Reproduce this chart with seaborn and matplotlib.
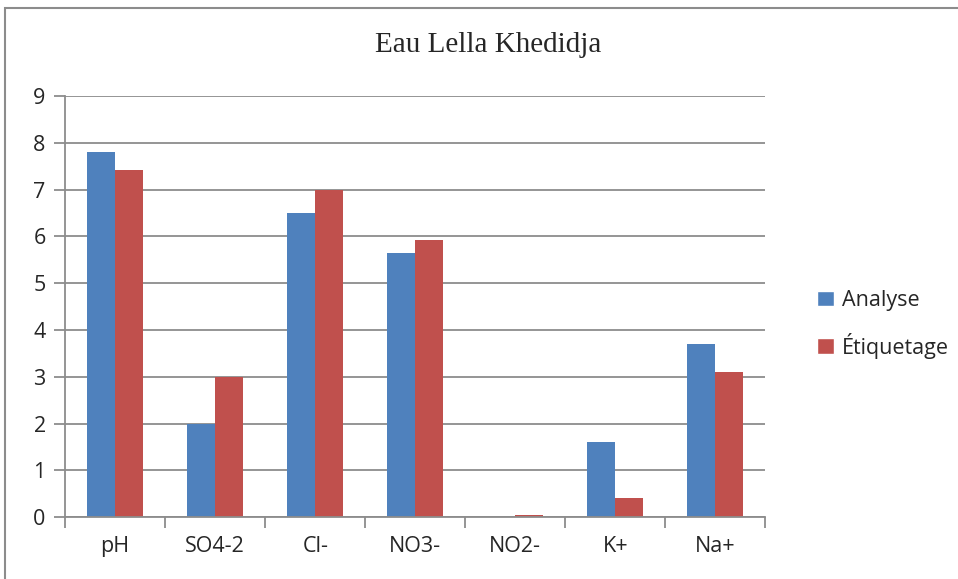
import pandas as pd
import matplotlib.pyplot as plt
import seaborn as sns
from matplotlib.patches import Rectangle, Patch

categories = ['pH', 'SO4-2', 'Cl-', 'NO3-', 'NO2-', 'K+', 'Na+']
analyse = [7.8, 2.0, 6.5, 5.65, 0.0, 1.6, 3.7]
etiquetage = [7.42, 3.0, 7.0, 5.93, 0.05, 0.4, 3.1]
series = ['Analyse', 'Étiquetage']
colors = ['#4F81BD', '#C0504D']

df = pd.DataFrame({
    'param': categories * 2,
    'value': analyse + etiquetage,
    'serie': [series[0]] * len(categories) + [series[1]] * len(categories),
})

sns.set_style('white')
plt.rcParams['font.family'] = ['Open Sans', 'DejaVu Sans']

fig = plt.figure(figsize=(9.58, 5.79), dpi=100)
ax = fig.add_axes([0.068, 0.107, 0.731, 0.727])

sns.barplot(data=df, x='param', y='value', hue='serie', palette=colors,
            width=0.56, ax=ax, legend=False, saturation=1, linewidth=0)

ax.set_ylim(0, 9)
ax.set_xlim(-0.5, len(categories) - 0.5)
ax.set_yticks(range(0, 10))
ax.yaxis.grid(True, color='#8c8c8c', linewidth=1.3)
ax.set_axisbelow(True)
ax.set_xlabel('')
ax.set_ylabel('')

for s in ['top', 'right']:
    ax.spines[s].set_visible(False)
for s in ['left', 'bottom']:
    ax.spines[s].set_color('#8c8c8c')
    ax.spines[s].set_linewidth(1.3)

ax.tick_params(axis='y', which='major', length=8, color='#8c8c8c', width=1.3,
               labelsize=15.5, pad=6, left=True)
ax.tick_params(axis='x', which='major', length=0, labelsize=15.5, pad=14)
ax.set_xticks([i - 0.5 for i in range(len(categories) + 1)], minor=True)
ax.tick_params(axis='x', which='minor', length=8, color='#8c8c8c', width=1.3, bottom=True)

fig.text(0.51, 0.922, 'Eau Lella Khedidja', family='Liberation Serif',
         fontsize=21, ha='center', va='center')

handles = [Patch(facecolor=c, label=l) for c, l in zip(colors, series)]
fig.legend(handles=handles, loc='center left', bbox_to_anchor=(0.833, 0.44),
           frameon=False, fontsize=15.5, handlelength=0.75, handleheight=0.75,
           handletextpad=0.4, labelspacing=1.0)

fig.patches.append(Rectangle((0.005, -0.01), 1.0, 0.996, transform=fig.transFigure,
                             fill=False, edgecolor='#8c8c8c', linewidth=1.5))

fig.savefig('out.png', dpi=100)
